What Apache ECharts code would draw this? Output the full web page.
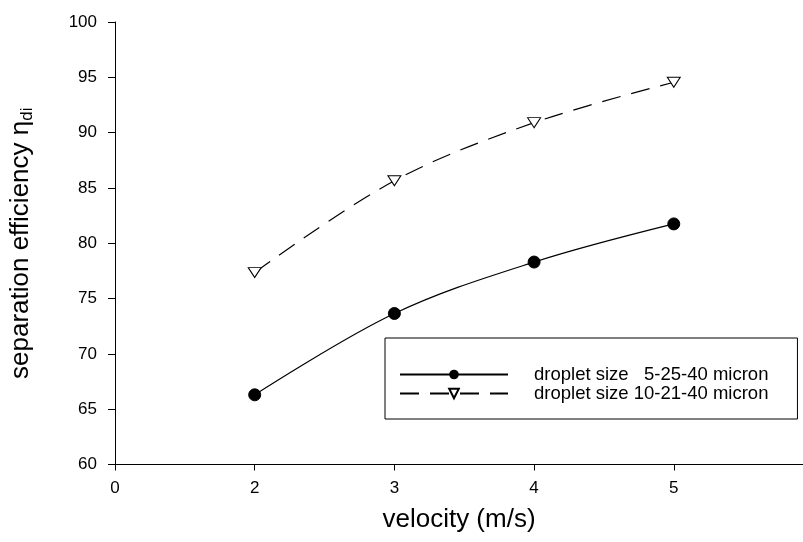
<!DOCTYPE html>
<html>
<head>
<meta charset="utf-8">
<script src="https://cdn.jsdelivr.net/npm/echarts@6/dist/echarts.min.js"></script>
<style>
  html, body { margin: 0; padding: 0; background: #fff; }
  #chart { width: 803px; height: 542px; }
</style>
</head>
<body>
<div id="chart"></div>
<script>
// Gas velocity (m/s)
const velocity = [2, 3, 4, 5];
// Separation efficiency for two droplet size distributions
const effSize5_25_40 = [66.3, 73.65, 78.3, 81.75];
const effSize10_21_40 = [77.35, 85.65, 90.9, 94.55];
const seriesNames = ['droplet size   5-25-40 micron', 'droplet size 10-21-40 micron'];
const yTicks = [60, 65, 70, 75, 80, 85, 90, 95, 100];
// The velocity axis is broken between 0 and 2: the first tick slot carries the "0" label
const xTickLabels = ['0', '2', '3', '4', '5'];
const xAxisStart = 1;

const font = 'Liberation Sans, Arial, sans-serif';
const chart = echarts.init(document.getElementById('chart'), null, { renderer: 'canvas' });

chart.setOption({
  animation: false,
  backgroundColor: '#fff',
  grid: { left: 115, right: 0, top: 22, bottom: 77.5, containLabel: false },
  legend: {
    orient: 'vertical',
    left: 385,
    top: 338,
    padding: [27, 29, 16, 14],
    itemWidth: 108,
    itemHeight: 12,
    itemGap: 0,
    borderColor: '#000',
    borderWidth: 1,
    data: seriesNames,
    textStyle: {
      fontFamily: font, fontSize: 18.5, color: '#000',
      width: 279, padding: [0, 0, 0, 21]
    }
  },
  xAxis: {
    type: 'value',
    min: xAxisStart,
    max: 5.925,
    interval: 1,
    name: 'velocity (m/s)',
    nameLocation: 'middle',
    nameGap: 42,
    nameTextStyle: { fontFamily: font, fontSize: 26, color: '#000' },
    axisLine: { onZero: false, lineStyle: { color: '#000', width: 1 } },
    axisTick: { show: true, length: 6, lineStyle: { color: '#000' } },
    axisLabel: {
      fontFamily: font, fontSize: 17, color: '#000', margin: 15,
      showMaxLabel: false,
      formatter: v => {
        const i = Math.round(v - xAxisStart);
        return xTickLabels[i] !== undefined ? xTickLabels[i] : '';
      }
    },
    splitLine: { show: false }
  },
  yAxis: {
    type: 'value',
    min: yTicks[0],
    max: yTicks[yTicks.length - 1],
    interval: 5,
    name: '{m|separation efficiency η}{s|di}',
    nameLocation: 'middle',
    nameGap: 79,
    nameTextStyle: {
      fontFamily: font, fontSize: 26, color: '#000',
      rich: {
        m: { fontFamily: font, fontSize: 26, color: '#000' },
        s: { fontFamily: font, fontSize: 17, color: '#000', padding: [13, 0, 0, 0] }
      }
    },
    axisLine: { show: true, lineStyle: { color: '#000', width: 1 } },
    axisTick: { show: true, length: 7, lineStyle: { color: '#000' } },
    axisLabel: { fontFamily: font, fontSize: 17, color: '#000', margin: 18 },
    splitLine: { show: false }
  },
  series: [
    {
      name: seriesNames[0],
      type: 'line',
      smooth: 0.35,
      data: velocity.map((v, i) => [v, effSize5_25_40[i]]),
      symbol: 'circle',
      symbolSize: 12,
      itemStyle: { color: '#000', borderColor: '#000' },
      lineStyle: { color: '#000', width: 1.2 }
    },
    {
      name: seriesNames[1],
      type: 'line',
      smooth: 0.35,
      data: velocity.map((v, i) => [v, effSize10_21_40[i]]),
      symbol: 'triangle',
      symbolRotate: 180,
      symbolSize: [13, 10],
      itemStyle: { color: '#fff', borderColor: '#000', borderWidth: 1 },
      lineStyle: { color: '#000', width: 1.2, type: [19, 11] }
    }
  ]
});
</script>
</body>
</html>
